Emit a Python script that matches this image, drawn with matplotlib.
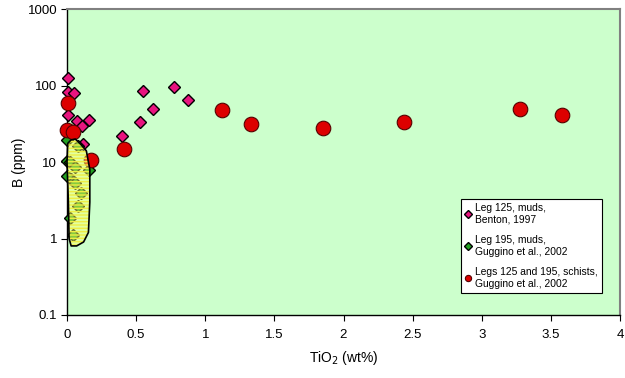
import numpy as np
import matplotlib
matplotlib.use('Agg')
import matplotlib.pyplot as plt
from matplotlib.patches import Polygon
from matplotlib.ticker import FixedLocator, NullLocator, FixedFormatter

plt.rcParams['font.family'] = ['Liberation Sans', 'DejaVu Sans']

# %% data
# Leg 125 muds (Benton, 1997)
leg125_tio2 = [0.01, 0.01, 0.053, 0.01, 0.07, 0.16, 0.106, 0.118,
               0.549, 0.775, 0.876, 0.619, 0.529, 0.399]
leg125_b = [126, 83, 80, 41, 34, 35, 30, 17,
            86, 97, 64, 49, 33, 22]

# Leg 195 muds (Guggino et al., 2002)
leg195_tio2 = [0.0, 0.08, 0.0, 0.02, 0.06, 0.16, 0.03, 0.0,
               0.06, 0.10, 0.08, 0.02, 0.04]
leg195_b = [19.7, 16.4, 10.4, 10.0, 8.5, 7.9, 6.0, 6.6,
            5.3, 3.9, 2.7, 1.85, 1.1]

# Legs 125 and 195 schists (Guggino et al., 2002)
schist_tio2 = [0.01, 0.0, 0.04, 0.17, 0.41, 1.12, 1.33, 1.855, 2.435, 3.28, 3.58]
schist_b = [60, 26.6, 25, 10.7, 14.9, 48.6, 31, 28, 33, 50, 41.8]

# outline of the shaded field around the Leg 195 muds
hull_tio2 = [0.005, 0.03, 0.06, 0.10, 0.14, 0.165, 0.165, 0.155,
             0.12, 0.07, 0.03, 0.015, 0.01, 0.0]
hull_b = [17.5, 19.5, 20, 17, 14, 8, 3, 1.2,
          0.9, 0.8, 0.8, 1.0, 3, 10]

x_ticks = [0, 0.5, 1, 1.5, 2, 2.5, 3, 3.5, 4]
y_ticks = [0.1, 1, 10, 100, 1000]
y_labels = ['0.1', '1', '10', '100', '1000']

# %% plot
fig = plt.figure(figsize=(6.25, 3.78), dpi=100)
ax = fig.add_axes([0.1072, 0.1667, 0.8848, 0.8093])
ax.set_facecolor('#CCFFCC')

ax.plot(leg125_tio2, leg125_b, linestyle='none', marker='D', ms=5.8,
        mfc='#E8157F', mec='black', mew=1.0, zorder=3, clip_on=False,
        label='Leg 125, muds,\nBenton, 1997')
ax.plot(leg195_tio2, leg195_b, linestyle='none', marker='D', ms=5.8,
        mfc='#22A022', mec='black', mew=1.0, zorder=3, clip_on=False,
        label='Leg 195, muds,\nGuggino et al., 2002')
ax.plot(schist_tio2, schist_b, linestyle='none', marker='o', ms=10.5,
        mfc='#DD0000', mec='#550000', mew=0.8, zorder=3, clip_on=False,
        label='Legs 125 and 195, schists,\nGuggino et al., 2002')

pts = np.column_stack([hull_tio2, hull_b])
ax.add_patch(Polygon(pts, closed=True, facecolor='#FFFF66', alpha=0.45,
                     edgecolor='none', zorder=4, clip_on=False))
ax.add_patch(Polygon(pts, closed=True, facecolor='none', hatch='-----',
                     edgecolor='#EEEE44', linewidth=0, zorder=4, clip_on=False))
ax.add_patch(Polygon(pts, closed=True, facecolor='none', edgecolor='black',
                     linewidth=1.2, joinstyle='round', zorder=5, clip_on=False))

ax.set_yscale('log')
ax.set_xlim(0, 4)
ax.set_ylim(0.1, 1000)
ax.xaxis.set_major_locator(FixedLocator(x_ticks))
ax.set_xticklabels([f'{t:g}' for t in x_ticks])
ax.yaxis.set_major_locator(FixedLocator(y_ticks))
ax.yaxis.set_major_formatter(FixedFormatter(y_labels))
ax.yaxis.set_minor_locator(NullLocator())
ax.tick_params(axis='both', direction='out', length=4, width=0.8,
               labelsize=9.5, colors='black')
ax.tick_params(axis='y', pad=3)
ax.tick_params(axis='x', pad=6)

for s in ['top', 'right']:
    ax.spines[s].set_color('#808080')
    ax.spines[s].set_linewidth(1.5)
for s in ['left', 'bottom']:
    ax.spines[s].set_color('black')
    ax.spines[s].set_linewidth(1.0)

ax.set_xlabel('TiO$_2$ (wt%)', fontsize=10)
ax.set_ylabel('B (ppm)', fontsize=10)
ax.xaxis.set_label_coords(0.5, -0.112)
ax.yaxis.set_label_coords(-0.075, 0.5)

leg = ax.legend(loc='upper left', bbox_to_anchor=(0.713, 0.379), fontsize=7.4,
                frameon=True, fancybox=False, edgecolor='black',
                handlelength=0.6, handletextpad=0.3, labelspacing=1.0,
                borderpad=0.4, borderaxespad=0)
leg.get_frame().set_linewidth(0.8)
leg.get_frame().set_facecolor('white')
leg.get_frame().set_alpha(1)
for h in leg.legend_handles:
    h.set_markersize(4.5)

fig.savefig('out.png', dpi=100)
